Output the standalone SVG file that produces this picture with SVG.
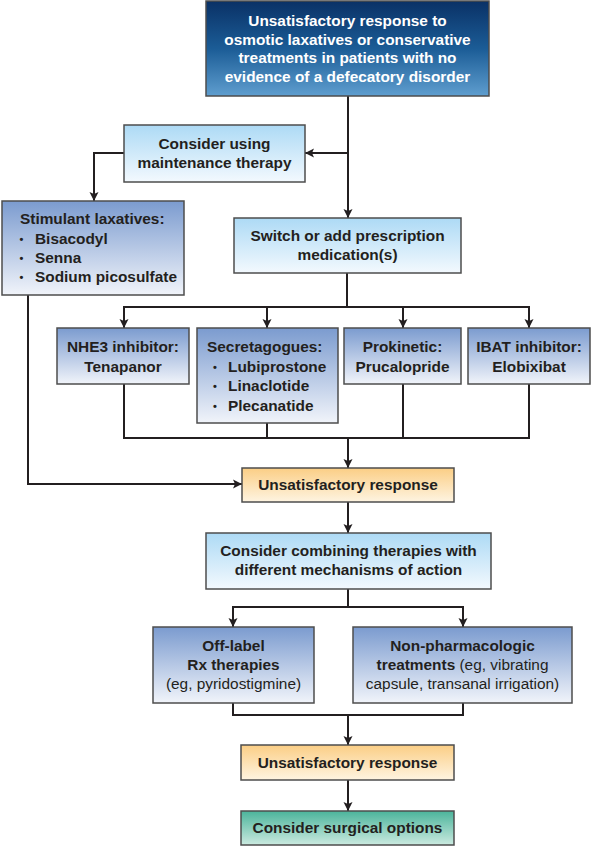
<svg xmlns="http://www.w3.org/2000/svg" width="592" height="847" viewBox="0 0 592 847">
<defs>
<linearGradient id="gDark" x1="0" y1="0" x2="0" y2="1"><stop offset="0" stop-color="#0a3166"/><stop offset="0.5" stop-color="#1b5c96"/><stop offset="1" stop-color="#5f9ecf"/></linearGradient>
<linearGradient id="gLight" x1="0" y1="0" x2="0" y2="1"><stop offset="0" stop-color="#addaf5"/><stop offset="1" stop-color="#f3f9fe"/></linearGradient>
<linearGradient id="gMed" x1="0" y1="0" x2="0" y2="1"><stop offset="0" stop-color="#7b9bcf"/><stop offset="1" stop-color="#f1f4fa"/></linearGradient>
<linearGradient id="gOrange" x1="0" y1="0" x2="0" y2="1"><stop offset="0" stop-color="#fbce85"/><stop offset="1" stop-color="#fef4e1"/></linearGradient>
<linearGradient id="gTeal" x1="0" y1="0" x2="0" y2="1"><stop offset="0" stop-color="#4bb49b"/><stop offset="1" stop-color="#cbeae0"/></linearGradient>
<marker id="arr" markerUnits="userSpaceOnUse" markerWidth="10" markerHeight="10" refX="9" refY="5" orient="auto">
<path d="M0,0.5 L9,5 L0,9.5 L2,5 z" fill="#231f20"/>
</marker>
<style>
.box{stroke:#4d4d4d;stroke-width:1.5}
.t{font-family:"Liberation Sans",Arial,sans-serif;font-size:15.4px;font-weight:bold;fill:#231f20}
.c{text-anchor:middle}
.w{fill:#ffffff}
.n{font-weight:normal}
.b{font-size:11px}
.ln{fill:none;stroke:#231f20;stroke-width:2}
</style>
</defs>
<g id="connectors">
<path class="ln" d="M348 96 V218" marker-end="url(#arr)"/>
<path class="ln" d="M348 153 H305" marker-end="url(#arr)"/>
<path class="ln" d="M124 153 H94 V201" marker-end="url(#arr)"/>
<path class="ln" d="M347 273 V307"/>
<path class="ln" d="M123 307 H530"/>
<path class="ln" d="M124 306 V328" marker-end="url(#arr)"/>
<path class="ln" d="M267 306 V328" marker-end="url(#arr)"/>
<path class="ln" d="M403 306 V328" marker-end="url(#arr)"/>
<path class="ln" d="M529 306 V328" marker-end="url(#arr)"/>
<path class="ln" d="M124 384 V438 H529 V384"/>
<path class="ln" d="M267 423 V438"/>
<path class="ln" d="M403 384 V438"/>
<path class="ln" d="M348 437 V468" marker-end="url(#arr)"/>
<path class="ln" d="M28 295 V484 H242" marker-end="url(#arr)"/>
<path class="ln" d="M348 502 V533" marker-end="url(#arr)"/>
<path class="ln" d="M348 589 V607"/>
<path class="ln" d="M232 607 H464"/>
<path class="ln" d="M233 606 V627" marker-end="url(#arr)"/>
<path class="ln" d="M463 606 V627" marker-end="url(#arr)"/>
<path class="ln" d="M233 703 V715 H463 V703"/>
<path class="ln" d="M348 714 V745" marker-end="url(#arr)"/>
<path class="ln" d="M348 780 V811" marker-end="url(#arr)"/>
</g>
<g id="start">
<rect class="box" x="206" y="1" width="283" height="95" fill="url(#gDark)"/>
<text class="t c w" x="347.5" y="26">Unsatisfactory response to</text>
<text class="t c w" x="347.5" y="44.5">osmotic laxatives or conservative</text>
<text class="t c w" x="347.5" y="63">treatments in patients with no</text>
<text class="t c w" x="347.5" y="81.5">evidence of a defecatory disorder</text>
</g>
<g id="maintenance">
<rect class="box" x="124" y="125" width="181" height="57" fill="url(#gLight)"/>
<text class="t c" x="214.5" y="149">Consider using</text>
<text class="t c" x="214.5" y="168">maintenance therapy</text>
</g>
<g id="stimulant">
<rect class="box" x="2" y="201" width="182" height="94" fill="url(#gMed)"/>
<text class="t" x="20" y="224">Stimulant laxatives:</text>
<text class="t b" x="19.5" y="243">•</text><text class="t" x="35" y="244">Bisacodyl</text>
<text class="t b" x="19.5" y="262">•</text><text class="t" x="35" y="263">Senna</text>
<text class="t b" x="19.5" y="281">•</text><text class="t" x="35" y="282">Sodium picosulfate</text>
</g>
<g id="switch">
<rect class="box" x="234" y="218" width="227" height="55" fill="url(#gLight)"/>
<text class="t c" x="347.5" y="241">Switch or add prescription</text>
<text class="t c" x="347.5" y="260">medication(s)</text>
</g>
<g id="nhe3">
<rect class="box" x="57" y="328" width="132" height="56" fill="url(#gMed)"/>
<text class="t c" x="123" y="352">NHE3 inhibitor:</text>
<text class="t c" x="123" y="372">Tenapanor</text>
</g>
<g id="secretagogues">
<rect class="box" x="197" y="328" width="141" height="95" fill="url(#gMed)"/>
<text class="t" x="207" y="352">Secretagogues:</text>
<text class="t b" x="213" y="371">•</text><text class="t" x="228" y="372">Lubiprostone</text>
<text class="t b" x="213" y="390">•</text><text class="t" x="228" y="391">Linaclotide</text>
<text class="t b" x="213" y="410">•</text><text class="t" x="228" y="411">Plecanatide</text>
</g>
<g id="prokinetic">
<rect class="box" x="344" y="328" width="117" height="56" fill="url(#gMed)"/>
<text class="t c" x="402.5" y="352">Prokinetic:</text>
<text class="t c" x="402.5" y="372">Prucalopride</text>
</g>
<g id="ibat">
<rect class="box" x="468" y="328" width="122" height="56" fill="url(#gMed)"/>
<text class="t c" x="529" y="352">IBAT inhibitor:</text>
<text class="t c" x="529" y="372">Elobixibat</text>
</g>
<g id="unsat1">
<rect class="box" x="242" y="468" width="212" height="34" fill="url(#gOrange)"/>
<text class="t c" x="348" y="490">Unsatisfactory response</text>
</g>
<g id="combine">
<rect class="box" x="206" y="533" width="285" height="56" fill="url(#gLight)"/>
<text class="t c" x="348.5" y="556">Consider combining therapies with</text>
<text class="t c" x="348.5" y="575">different mechanisms of action</text>
</g>
<g id="offlabel">
<rect class="box" x="153" y="627" width="161" height="76" fill="url(#gMed)"/>
<text class="t c" x="233.5" y="651">Off-label</text>
<text class="t c" x="233.5" y="670">Rx therapies</text>
<text class="t c n" x="233.5" y="689">(eg, pyridostigmine)</text>
</g>
<g id="nonpharm">
<rect class="box" x="353" y="627" width="219" height="76" fill="url(#gMed)"/>
<text class="t c" x="462.5" y="651">Non-pharmacologic</text>
<text class="t c" x="462.5" y="670">treatments<tspan class="n"> (eg, vibrating</tspan></text>
<text class="t c n" x="462.5" y="689">capsule, transanal irrigation)</text>
</g>
<g id="unsat2">
<rect class="box" x="241" y="745" width="213" height="35" fill="url(#gOrange)"/>
<text class="t c" x="347.5" y="768">Unsatisfactory response</text>
</g>
<g id="surgical">
<rect class="box" x="241" y="811" width="213" height="34" fill="url(#gTeal)"/>
<text class="t c" x="347.5" y="833">Consider surgical options</text>
</g>
</svg>
